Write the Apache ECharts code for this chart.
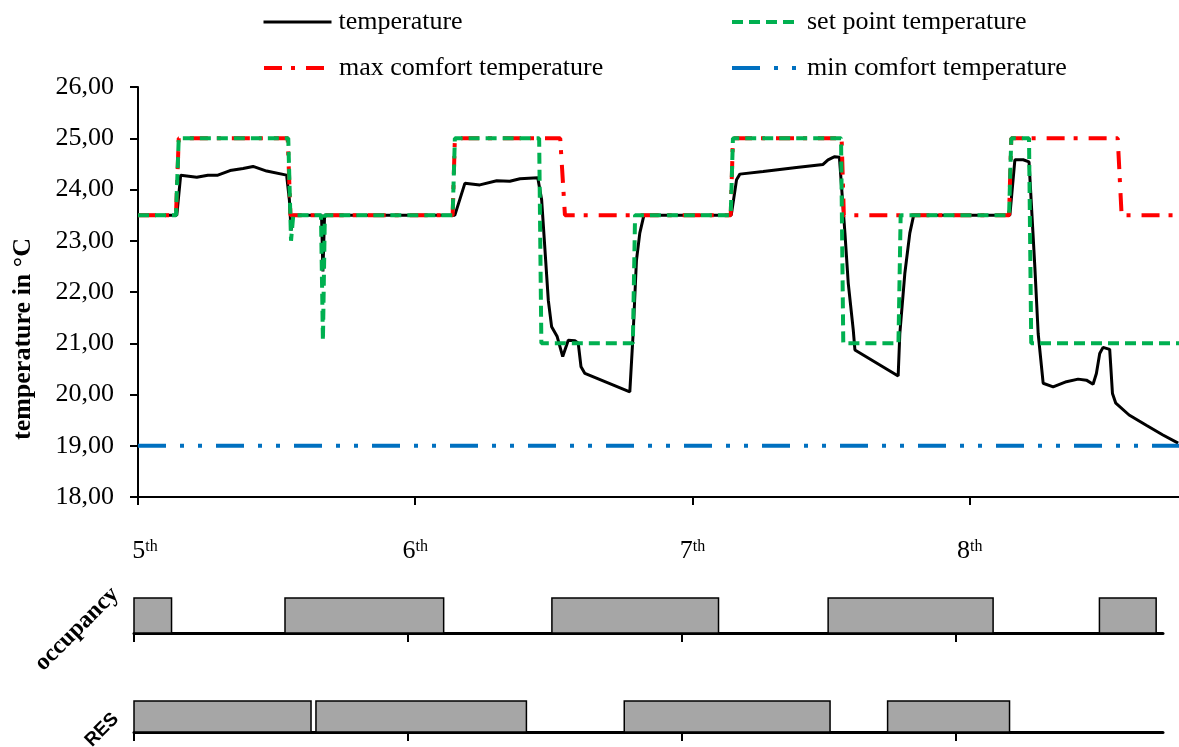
<!DOCTYPE html>
<html>
<head>
<meta charset="utf-8">
<script src="https://cdn.jsdelivr.net/npm/echarts@6/dist/echarts.min.js"></script>
<style>
  html, body { margin: 0; padding: 0; background: #fff; }
  #chart { width: 1179px; height: 747px; }
</style>
</head>
<body>
<div id="chart"></div>
<script>
// days of the month (5th .. ~8.75th)
const dayTicks = [5, 6, 7, 8];

const tempX = [5.0, 5.14, 5.154, 5.212, 5.252, 5.288, 5.332, 5.379, 5.415, 5.464, 5.536, 5.546, 5.552, 5.560,
  5.662, 5.667, 5.673, 6.143, 6.179, 6.233, 6.294, 6.341, 6.378, 6.442, 6.456, 6.480, 6.492, 6.512, 6.532,
  6.552, 6.576, 6.588, 6.598, 6.612, 6.774, 6.786, 6.798, 6.810, 6.825, 7.140, 7.159, 7.171, 7.255, 7.315,
  7.375, 7.471, 7.489, 7.513, 7.530, 7.550, 7.562, 7.580, 7.586, 7.742, 7.748, 7.766, 7.784, 7.798, 8.145,
  8.163, 8.193, 8.214, 8.235, 8.247, 8.265, 8.301, 8.349, 8.391, 8.421, 8.445, 8.457, 8.469, 8.481, 8.505,
  8.509, 8.515, 8.527, 8.575, 8.637, 8.697, 8.752];
const tempY = [23.5, 23.5, 24.28, 24.24, 24.28, 24.28, 24.37, 24.41, 24.45, 24.36, 24.28, 23.8, 23.2, 23.5,
  23.5, 22.4, 23.5, 23.5, 24.12, 24.09, 24.17, 24.16, 24.21, 24.23, 23.8, 21.84, 21.32, 21.13, 20.74,
  21.06, 21.05, 21.0, 20.54, 20.41, 20.05, 21.19, 22.62, 23.15, 23.5, 23.5, 24.19, 24.30, 24.35, 24.39,
  24.43, 24.49, 24.58, 24.64, 24.63, 23.15, 22.17, 21.26, 20.87, 20.36, 21.19, 22.36, 23.15, 23.5, 23.5,
  24.58, 24.58, 24.54, 22.49, 21.19, 20.22, 20.15, 20.25, 20.30, 20.28, 20.20, 20.41, 20.80, 20.92, 20.88,
  20.54, 20.02, 19.83, 19.60, 19.40, 19.21, 19.05];

const setX = [5.0, 5.137, 5.147, 5.542, 5.552, 5.560, 5.660, 5.667, 5.674, 6.135, 6.143, 6.447, 6.455,
  6.785, 6.793, 7.138, 7.146, 7.536, 7.544, 7.743, 7.751, 8.142, 8.150, 8.214, 8.222, 8.755];
const setY = [23.5, 23.5, 25, 25, 23.0, 23.5, 23.5, 21.05, 23.5, 23.5, 25, 25, 21,
  21, 23.5, 23.5, 25, 25, 21, 21, 23.5, 23.5, 25, 25, 21, 21];

const maxX = [5.0, 5.137, 5.147, 5.540, 5.550, 6.135, 6.143, 6.523, 6.540, 7.138, 7.146, 7.538, 7.546,
  8.142, 8.150, 8.534, 8.548, 8.755];
const maxY = [23.5, 23.5, 25, 25, 23.5, 23.5, 25, 25, 23.5, 23.5, 25, 25, 23.5,
  23.5, 25, 25, 23.5, 23.5];

const minX = [5.0, 8.755];
const minY = [19, 19];

const occupancyStart = [5.0, 5.551, 6.525, 7.533, 8.523];
const occupancyEnd = [5.137, 6.13, 7.133, 8.135, 8.73];
const resStart = [5.0, 5.664, 6.789, 7.75];
const resEnd = [5.646, 6.432, 7.54, 8.195];

const zip = (a, b) => a.map((v, i) => [v, b[i]]);
const FONT = '"Liberation Serif", "Times New Roman", serif';
const X_MAX = 8.755;

const chart = echarts.init(document.getElementById('chart'), null, { renderer: 'canvas' });

function barItem(params, api) {
  const p0 = api.coord([api.value(0), 1]);
  const p1 = api.coord([api.value(1), 0]);
  return {
    type: 'rect',
    shape: { x: p0[0], y: p0[1], width: p1[0] - p0[0], height: p1[1] - p0[1] },
    style: { fill: '#a6a6a6', stroke: '#000', lineWidth: 1.5 }
  };
}

// one legend per entry so each can sit where the reference puts it
function legendAt(name, left, top, width) {
  return {
    data: [name], left, top, padding: 0, itemWidth: 68, itemHeight: 12, itemGap: 0,
    itemStyle: { opacity: 0 },
    lineStyle: { width },
    textStyle: { fontFamily: FONT, fontSize: 26, color: '#000', padding: [0, 0, 0, 2] }
  };
}

const stripX = (gridIndex) => ({
  type: 'value', gridIndex, min: 5, max: X_MAX, interval: 1,
  axisLine: { show: true, lineStyle: { color: '#000', width: 3 } },
  axisTick: { show: true, customValues: dayTicks, length: 9, lineStyle: { color: '#000', width: 2 } },
  axisLabel: { show: false }, splitLine: { show: false }
});
const stripY = (gridIndex) => ({ type: 'value', gridIndex, min: 0, max: 1, show: false });

const option = {
  animation: false,
  backgroundColor: '#fff',
  legend: [
    legendAt('temperature', 262, 9, 3),
    legendAt('set point temperature', 730, 9, 4),
    legendAt('max comfort temperature', 262, 55, 4),
    legendAt('min comfort temperature', 730, 55, 4)
  ],
  grid: [
    { left: 138, right: 0, top: 87, height: 410 },
    { left: 134, width: 1029, top: 598, height: 35 },
    { left: 134, width: 1029, top: 701, height: 31 }
  ],
  xAxis: [
    {
      type: 'value', min: 5, max: X_MAX, interval: 1,
      axisLine: { show: true, lineStyle: { color: '#000', width: 2 } },
      axisTick: { show: true, customValues: dayTicks, length: 8, lineStyle: { color: '#000', width: 2 } },
      axisLabel: {
        customValues: dayTicks, margin: 40,
        formatter: (v) => (v === 5 ? '{f|5}{s|th}' : '{n|' + v + '}{s|th}'),
        rich: {
          n: { fontFamily: FONT, fontSize: 26, color: '#000', lineHeight: 28 },
          f: { fontFamily: FONT, fontSize: 26, color: '#000', lineHeight: 28, padding: [0, 0, 0, 14] },
          s: { fontFamily: FONT, fontSize: 16, color: '#000', lineHeight: 28, verticalAlign: 'top', padding: [2, 0, 0, 0] }
        }
      },
      splitLine: { show: false }
    },
    stripX(1),
    stripX(2)
  ],
  yAxis: [
    {
      type: 'value', min: 18, max: 26, interval: 1,
      axisLine: { show: true, lineStyle: { color: '#000', width: 2 } },
      axisTick: { show: true, length: 8, lineStyle: { color: '#000', width: 2 } },
      axisLabel: {
        margin: 24, fontFamily: FONT, fontSize: 26, color: '#000',
        formatter: (v) => v.toFixed(2).replace('.', ',')
      },
      splitLine: { show: false }
    },
    stripY(1),
    stripY(2)
  ],
  graphic: [
    {
      type: 'text', x: 23, y: 339, rotation: Math.PI / 2,
      style: { text: 'temperature in °C', font: 'bold 26px ' + FONT, fill: '#000', align: 'center', verticalAlign: 'middle' }
    },
    {
      type: 'text', x: 77, y: 629, rotation: Math.PI / 4,
      style: { text: 'occupancy', font: 'bold 24px ' + FONT, fill: '#000', align: 'center', verticalAlign: 'middle' }
    },
    {
      type: 'text', x: 102, y: 730, rotation: Math.PI / 4,
      style: { text: 'RES', font: 'bold 19px "Liberation Sans", Arial, sans-serif', fill: '#000', align: 'center', verticalAlign: 'middle' }
    }
  ],
  series: [
    {
      name: 'temperature', type: 'line', data: zip(tempX, tempY), showSymbol: false, symbol: 'none',
      lineStyle: { color: '#000', width: 3 }, itemStyle: { color: '#000' }, z: 2
    },
    {
      name: 'max comfort temperature', type: 'line', data: zip(maxX, maxY), showSymbol: false, symbol: 'none',
      lineStyle: { color: '#ff0000', width: 4, type: [18, 9, 4, 11] }, itemStyle: { color: '#ff0000' }, z: 3
    },
    {
      name: 'set point temperature', type: 'line', data: zip(setX, setY), showSymbol: false, symbol: 'none',
      lineStyle: { color: '#00b050', width: 4, type: [11, 6] }, itemStyle: { color: '#00b050' }, z: 4
    },
    {
      name: 'min comfort temperature', type: 'line', data: zip(minX, minY), showSymbol: false, symbol: 'none',
      lineStyle: { color: '#0070c0', width: 4, type: [28, 14, 4, 14, 4, 14] }, itemStyle: { color: '#0070c0' }, z: 3
    },
    {
      name: 'occupancy', type: 'custom', xAxisIndex: 1, yAxisIndex: 1,
      data: zip(occupancyStart, occupancyEnd), renderItem: barItem, clip: false
    },
    {
      name: 'RES', type: 'custom', xAxisIndex: 2, yAxisIndex: 2,
      data: zip(resStart, resEnd), renderItem: barItem, clip: false
    }
  ]
};

chart.setOption(option);
</script>
</body>
</html>
